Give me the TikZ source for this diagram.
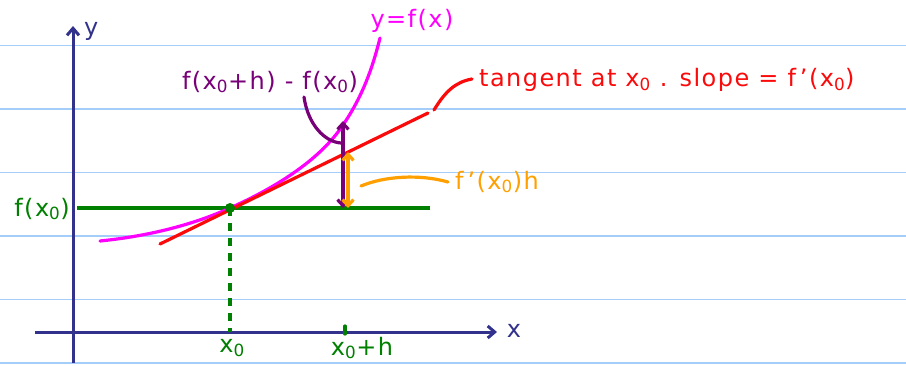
\documentclass[tikz,border=0pt]{standalone}
\usepackage{fontspec}
\setmainfont{DejaVu Sans}[LetterSpace=6]
\usetikzlibrary{arrows.meta}
\definecolor{axisblue}{RGB}{50,50,140}
\definecolor{ruleblue}{RGB}{165,205,250}
\definecolor{dgreen}{RGB}{0,128,0}
\definecolor{mag}{RGB}{255,0,255}
\definecolor{tred}{RGB}{250,10,10}
\definecolor{purp}{RGB}{120,0,120}
\definecolor{orng}{RGB}{255,160,0}
\tikzset{
  rule/.style={ruleblue, line width=1.8pt},
  axis/.style={axisblue, line width=3pt, -{Straight Barb[length=7pt,width=12pt,line width=3pt]}},
  pen/.style={line width=3.2pt, line cap=round},
  lab/.style={inner sep=0pt, font=\fontsize{24}{27}\selectfont},
  dbl/.style={pen, {Straight Barb[length=6pt,width=11pt]}-{Straight Barb[length=6pt,width=11pt]}},
}
\newcommand{\sub}[1]{\textsubscript{#1}}
\begin{document}
\begin{tikzpicture}[x=1pt,y=-1pt]
\useasboundingbox (0,0) rectangle (906,365);
% ruled lines
\foreach \yy in {45.5,109,172.5,236,299.5,363}
  \draw[rule] (0,\yy) -- (906,\yy);
% axes
\coordinate (ybot) at (73,363);
\coordinate (ytop) at (73,26);
\coordinate (xl) at (35,332);
\coordinate (xr) at (497,332);
\draw[axis] (ybot) -- (ytop);
\draw[axis] (xl) -- (xr);
\node[lab, text=axisblue, anchor=west] (ylab) at (84,31) {y};
\node[lab, text=axisblue] (xlab) at (514,331) {x};
% points
\coordinate (P) at (230,208);
\coordinate (Pbase) at (230,332);
\coordinate (Q) at (345,208);
\coordinate (Qt) at (345,326);
\coordinate (Qb) at (345,334);
% green horizontal and dashed
\draw[dgreen, pen, line cap=butt] (77,208) -- (430,208);
\draw[dgreen, pen, line cap=butt, dash pattern=on 8pt off 7pt] (P) -- (Pbase);
\draw[dgreen, pen] (Qt) -- (Qb);
% magenta curve
\coordinate (c0) at (100,241);
\coordinate (c2) at (343,125);
\coordinate (c3) at (380,38);
\draw[mag, pen] (c0) .. controls (150,236) and (195,224) .. (P)
  .. controls (275,188) and (320,160) .. (c2)
  .. controls (362,97) and (372,70) .. (c3);
% red tangent
\coordinate (t0) at (160,244);
\coordinate (t1) at (428,113);
\draw[tred, pen] (t0) -- (t1);
% dot
\fill[dgreen] (P) circle (5pt);
% purple arrow
\coordinate (pa) at (343,208);
\coordinate (pb) at (343,121);
\draw[purp, dbl] (pa) -- (pb);
% orange arrow
\coordinate (oa) at (348,208);
\coordinate (ob) at (348,152);
\draw[orng, dbl] (oa) -- (ob);
% labels
\node[lab, text=dgreen, anchor=east] (fx0) at (70,209) {f(x\sub{0})};
\node[lab, text=dgreen] (x0) at (232,348) {x\sub{0}};
\node[lab, text=dgreen] (x0h) at (362,348) {x\sub{0}+h};
\node[lab, text=mag] (yf) at (412,21) {y=f(x)};
\node[lab, text=purp] (dif) at (270,82) {f(x\sub{0}+h) - f(x\sub{0})};
\node[lab, text=orng] (fph) at (497,182) {f\,'(x\sub{0})h};
\node[lab, text=tred, anchor=west] (tan) at (479,80) {tangent at x\sub{0} . slope = f\,'(x\sub{0})};
% callouts
\coordinate (pc1) at (304,97);
\coordinate (pc2) at (341,143);
\draw[purp, pen] (pc1) .. controls (308,125) and (325,142) .. (pc2);
\coordinate (oc1) at (361,186);
\coordinate (oc2) at (448,182);
\draw[orng, pen] (oc1) .. controls (385,176) and (420,174) .. (oc2);
\coordinate (rc1) at (434,110);
\coordinate (rc2) at (472,79);
\draw[tred, pen] (rc1) .. controls (445,92) and (455,82) .. (rc2);
\end{tikzpicture}
\end{document}
